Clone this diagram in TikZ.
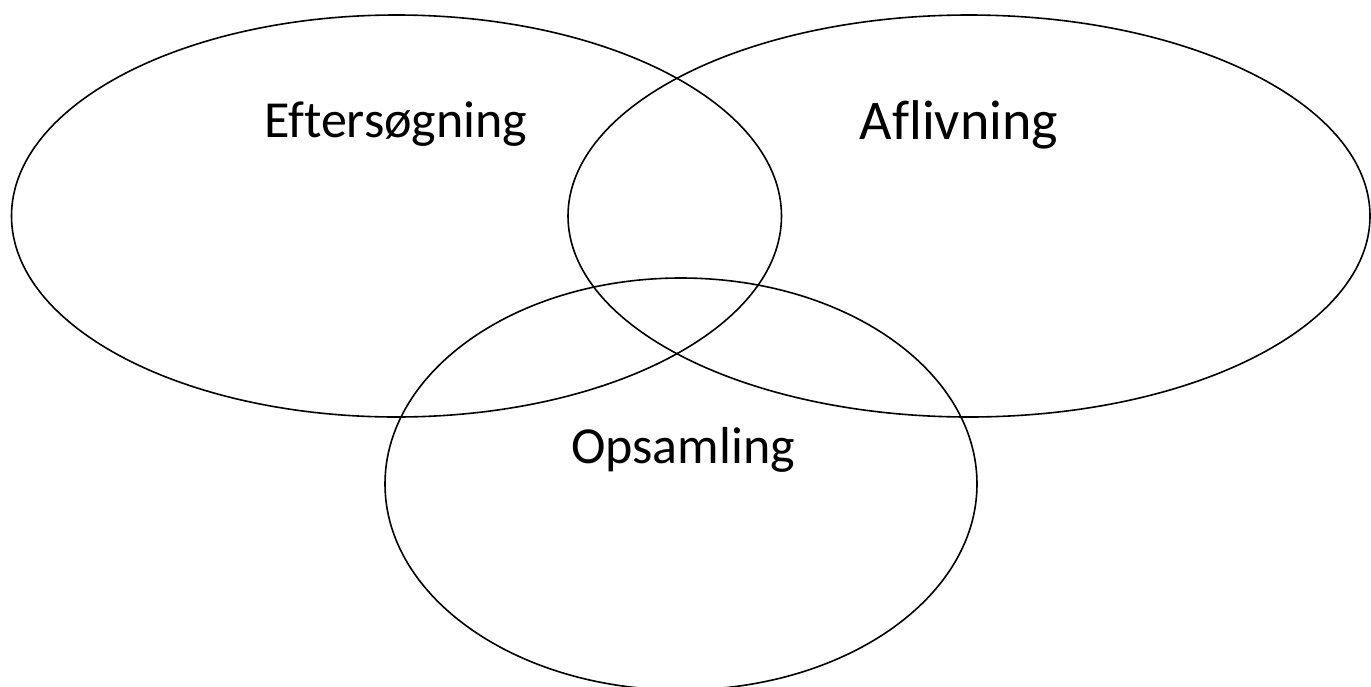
\documentclass[tikz,border=0pt]{standalone}
\usepackage{fontspec}
\setmainfont{Carlito}[Ligatures=NoCommon]
\begin{document}
\begin{tikzpicture}[x=1pt,y=-1pt,
  ring/.style={draw=black,line width=1.6pt},
  lbl/.style={anchor=base,inner sep=0pt}]
\useasboundingbox (0,0) rectangle (1371,686);
\begin{scope}
\clip (0,0) rectangle (1371,686);
\draw[ring] (396.5,216) ellipse [x radius=385, y radius=201];
\draw[ring] (969,216) ellipse [x radius=401, y radius=201];
\draw[ring] (681,484) ellipse [x radius=296, y radius=206];
\end{scope}
\node[lbl,font=\fontsize{52}{62}\selectfont] (eft) at (396,137) {Eftersøgning};
\node[lbl,font=\fontsize{56}{66}\selectfont] (afl) at (959,139) {Aflivning};
\node[lbl,font=\fontsize{52}{62}\selectfont] (ops) at (683,463) {Opsamling};
\end{tikzpicture}
\end{document}
